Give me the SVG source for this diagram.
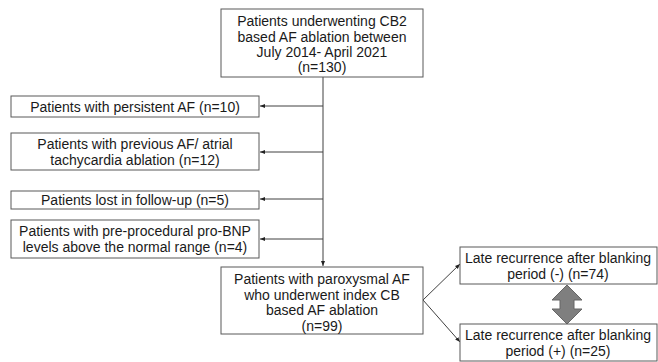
<svg xmlns="http://www.w3.org/2000/svg" width="658" height="362" viewBox="0 0 658 362">
<style>
rect.b{fill:#fff;stroke:#595959;stroke-width:1}
text{font-family:"Liberation Sans",Arial,sans-serif;font-size:14px;fill:#1a1a1a;text-anchor:middle}
.c{stroke:#404040;stroke-width:1;fill:none}
</style>
<defs>
<marker id="ah" viewBox="0 0 10 10" refX="10" refY="5" markerWidth="5" markerHeight="5" orient="auto"><path d="M0,1 L10,5 L0,9 Z" fill="#222"/></marker>
</defs>
<rect width="658" height="362" fill="#fff"/>
<g id="connectors">
<path class="c" d="M323,77 V266" marker-end="url(#ah)"/>
<path class="c" d="M323,106 H260" marker-end="url(#ah)"/>
<path class="c" d="M323,152 H260" marker-end="url(#ah)"/>
<path class="c" d="M323,199 H260" marker-end="url(#ah)"/>
<path class="c" d="M323,239 H260" marker-end="url(#ah)"/>
<path class="c" d="M423,300 L460,264" marker-end="url(#ah)"/>
<path class="c" d="M423,300 L460,342" marker-end="url(#ah)"/>
<path d="M567,285 L582,300 L574,300 L574,309 L582,309 L567,324 L552,309 L560,309 L560,300 L552,300 Z" fill="#7f7f7f" stroke="#666" stroke-width="1"/>
</g>
<g id="n0"><rect class="b" x="221" y="9" width="202" height="68"/>
<text x="322" y="26">Patients underwenting CB2</text>
<text x="322" y="42">based AF ablation between</text>
<text x="322" y="57">July 2014- April 2021</text>
<text x="322" y="72">(n=130)</text></g>
<g id="n1"><rect class="b" x="11" y="96" width="248" height="21"/>
<text x="135" y="111.5">Patients with persistent AF (n=10)</text></g>
<g id="n2"><rect class="b" x="11" y="133" width="248" height="37"/>
<text x="135" y="149">Patients with previous AF/ atrial</text>
<text x="135" y="165">tachycardia ablation (n=12)</text></g>
<g id="n3"><rect class="b" x="11" y="191" width="248" height="18"/>
<text x="135" y="205">Patients lost in follow-up (n=5)</text></g>
<g id="n4"><rect class="b" x="11" y="220" width="248" height="38"/>
<text x="135" y="236">Patients with pre-procedural pro-BNP</text>
<text x="135" y="252">levels above the normal range (n=4)</text></g>
<g id="n5"><rect class="b" x="221" y="267" width="202" height="67"/>
<text x="322" y="284">Patients with paroxysmal AF</text>
<text x="322" y="300">who underwent index CB</text>
<text x="322" y="315">based AF ablation</text>
<text x="322" y="331">(n=99)</text></g>
<g id="n6"><rect class="b" x="460" y="247" width="197" height="37"/>
<text x="558" y="263">Late recurrence after blanking</text>
<text x="558" y="279">period (-) (n=74)</text></g>
<g id="n7"><rect class="b" x="460" y="324" width="197" height="37"/>
<text x="558" y="340">Late recurrence after blanking</text>
<text x="558" y="356">period (+) (n=25)</text></g>
</svg>
